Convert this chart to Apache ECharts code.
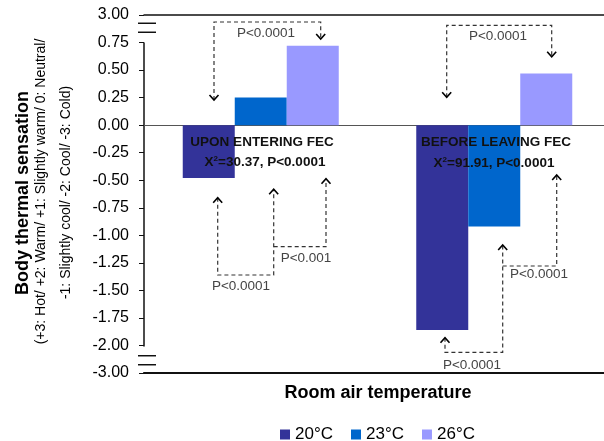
<!DOCTYPE html>
<html>
<head>
<meta charset="utf-8">
<script src="https://cdn.jsdelivr.net/npm/echarts@6/dist/echarts.min.js"></script>
<style>
  html, body { margin: 0; padding: 0; background: #fff; overflow: hidden; width: 604px; height: 441px; }
  /* plot area runs slightly past the right edge of the page */
  #chart { width: 611px; height: 441px; }
</style>
</head>
<body>
<div id="chart"></div>
<script>
// Mean thermal sensation votes per room air temperature
const categories = ['Upon entering FEC', 'Before leaving FEC'];
const seriesNames = ['20°C', '23°C', '26°C'];
const temp20 = [-0.48, -1.86];
const temp23 = [0.25, -0.92];
const temp26 = [0.72, 0.47];
const seriesColors = ['#333399', '#0066CC', '#9999FF'];

// Axis range and the two compressed stretches of the scale
const yMin = -3, yMax = 3, yStep = 0.25;
const upperBreak = { start: 0.75, end: 3, gap: 0.25 };
const lowerBreak = { start: -3, end: -2, gap: 0.25 };

const FONT = '"Liberation Sans", Arial, sans-serif';

const chart = echarts.init(document.getElementById('chart'), null, { renderer: 'canvas' });

const seriesData = [temp20, temp23, temp26];

// dashed comparison brackets with open arrow heads
function bracket(points, heads) {
  const els = [{
    type: 'polyline', silent: true, z: 20,
    shape: { points: points },
    style: { stroke: '#333', lineWidth: 1.2, lineDash: [4, 3], fill: null }
  }];
  heads.forEach(function (h) {
    const p = points[h.at];
    const d = h.dir === 'down' ? -1 : 1;
    els.push({
      type: 'polyline', silent: true, z: 21,
      shape: { points: [[p[0] - 4.5, p[1] + 5 * d], [p[0], p[1]], [p[0] + 4.5, p[1] + 5 * d]] },
      style: { stroke: '#000', lineWidth: 1.6, fill: null }
    });
  });
  return els;
}

function pText(x, y, text) {
  return {
    type: 'text', silent: true, z: 22, x: x, y: y,
    style: { text: text, fill: '#444', font: '13.5px ' + FONT, align: 'center', verticalAlign: 'middle' }
  };
}

function boldText(x, y, text) {
  return {
    type: 'text', silent: true, z: 22, x: x, y: y,
    style: { text: text, fill: '#111', font: 'bold 13.5px ' + FONT, align: 'center', verticalAlign: 'middle' }
  };
}

function chiText(x, y, value) {
  return {
    type: 'text', silent: true, z: 22, x: x, y: y,
    style: {
      text: '{a|X}{s|2}{a|=' + value + ', P<0.0001}',
      align: 'center', verticalAlign: 'middle',
      rich: {
        a: { fill: '#111', fontFamily: FONT, fontWeight: 'bold', fontSize: 13.5, lineHeight: 16 },
        s: { fill: '#111', fontFamily: FONT, fontWeight: 'bold', fontSize: 8, lineHeight: 16, verticalAlign: 'top', padding: [0, 0, 7, 0] }
      }
    }
  };
}

const annotationGraphics = [].concat(
  bracket([[214, 100], [214, 22], [320.7, 22], [320.7, 39]], [{ at: 0, dir: 'down' }, { at: 3, dir: 'down' }]),
  [pText(266, 33, 'P<0.0001')],
  bracket([[217.7, 197.7], [217.7, 275], [273.7, 275], [273.7, 189.3]], [{ at: 0, dir: 'up' }, { at: 3, dir: 'up' }]),
  [pText(241, 286, 'P<0.0001')],
  bracket([[273.7, 246.7], [326, 246.7], [326, 178.7]], [{ at: 2, dir: 'up' }]),
  [pText(306, 258.5, 'P<0.001')],
  bracket([[446.7, 97.3], [446.7, 25.3], [551.7, 25.3], [551.7, 56.7]], [{ at: 0, dir: 'down' }, { at: 3, dir: 'down' }]),
  [pText(498, 36, 'P<0.0001')],
  bracket([[445, 337.7], [445, 352.3], [502.7, 352.3], [502.7, 245]], [{ at: 0, dir: 'up' }, { at: 3, dir: 'up' }]),
  [pText(472, 365, 'P<0.0001')],
  bracket([[502.7, 266], [556.7, 266], [556.7, 175]], [{ at: 2, dir: 'up' }]),
  [pText(539, 274, 'P<0.0001')],
  [boldText(262, 142, 'UPON ENTERING FEC'), chiText(265, 162.5, '30.37')],
  [boldText(496, 142, 'BEFORE LEAVING FEC'), chiText(494, 163.5, '91.91')],
  // rotated y-axis title
  [{
    type: 'text', silent: true, x: 23, y: 193, rotation: Math.PI / 2,
    style: { text: 'Body thermal sensation', fill: '#000', font: 'bold 18px ' + FONT, align: 'center', verticalAlign: 'middle' }
  }, {
    type: 'text', silent: true, x: 41, y: 191.5, rotation: Math.PI / 2,
    style: { text: '(+3: Hot/ +2: Warm/ +1: Slightly warm/ 0: Neutral/', fill: '#000', font: '14px ' + FONT, align: 'center', verticalAlign: 'middle' }
  }, {
    type: 'text', silent: true, x: 66, y: 192.5, rotation: Math.PI / 2,
    style: { text: '-1: Slightly cool/ -2: Cool/ -3: Cold)', fill: '#000', font: '14px ' + FONT, align: 'center', verticalAlign: 'middle' }
  }]
);

const GRID_LEFT = 144;

const option = {
  animation: false,
  backgroundColor: '#fff',
  grid: { left: GRID_LEFT, right: 0, top: 15, bottom: 68, containLabel: false },
  legend: {
    data: seriesNames,
    left: 275, top: 421,
    icon: 'rect', itemWidth: 10, itemHeight: 10, itemGap: 18,
    textStyle: { fontFamily: FONT, fontSize: 17, color: '#000', padding: [0, 0, 0, 0] }
  },
  xAxis: [{
    type: 'category',
    data: categories,
    position: 'bottom',
    axisLine: { onZero: false, lineStyle: { color: '#111', width: 2.2 } },
    axisTick: { show: false },
    axisLabel: { show: false },
    splitLine: { show: false },
    name: 'Room air temperature',
    nameLocation: 'start',
    nameGap: 0,
    nameTextStyle: { fontFamily: FONT, fontWeight: 'bold', fontSize: 18, color: '#000', align: 'center', verticalAlign: 'top', padding: [9, 0, 0, 0] }
  }, {
    type: 'category',
    data: categories,
    position: 'top',
    axisLine: { onZero: false, lineStyle: { color: '#111', width: 1.5 } },
    axisTick: { show: false },
    axisLabel: { show: false },
    splitLine: { show: false }
  }],
  yAxis: {
    type: 'value',
    min: yMin, max: yMax, interval: yStep,
    breaks: [upperBreak, lowerBreak],
    breakArea: {
      show: false,
      expandOnClick: false,
      zigzagAmplitude: 0,
      itemStyle: { color: 'rgba(0,0,0,0)', borderWidth: 0, opacity: 0 }
    },
    breakLabelLayout: { moveOverlap: false },
    axisLine: { show: true, lineStyle: { color: '#111', width: 1.5 } },
    axisTick: { show: true, inside: false, length: 5, lineStyle: { color: '#111', width: 1 } },
    axisLabel: {
      margin: 15,
      fontFamily: FONT, fontSize: 16, color: '#000',
      formatter: function (v) { return v.toFixed(2); }
    },
    splitLine: { show: false }
  },
  series: seriesNames.map(function (name, i) {
    const s = {
      name: name,
      type: 'bar',
      data: seriesData[i],
      barWidth: 52,
      barGap: '0%',
      itemStyle: { color: seriesColors[i] }
    };
    if (i === 0) {
      s.markLine = {
        silent: true, symbol: 'none', z: 1,
        label: { show: false },
        lineStyle: { color: '#555', width: 1, type: 'solid' },
        data: [{ yAxis: 0 }]
      };
    }
    return s;
  }),
  graphic: annotationGraphics
};

chart.setOption(option);

// break marks on the value axis and the axis title, placed from the scales
function extraGraphics() {
  const yPix = function (v) { return chart.convertToPixel({ yAxisIndex: 0 }, v); };
  const upperMid = (yPix(upperBreak.start) + yPix(upperBreak.end)) / 2 - 1;
  const lowerMid = (yPix(lowerBreak.start) + yPix(lowerBreak.end)) / 2 + 1;
  const els = [];
  [upperMid, lowerMid].forEach(function (m) {
    els.push({
      type: 'rect', silent: true, z: 30,
      shape: { x: GRID_LEFT - 3, y: m - 4, width: 6, height: 8 },
      style: { fill: '#fff' }
    });
    [m - 4.5, m + 4.5].forEach(function (yy) {
      els.push({
        type: 'line', silent: true, z: 31,
        shape: { x1: GRID_LEFT - 6, y1: yy, x2: GRID_LEFT + 12, y2: yy },
        style: { stroke: '#111', lineWidth: 1.5 }
      });
    });
  });
  return els;
}

// the x-axis title is centred under the visible part of the plot
chart.setOption({
  xAxis: [{ name: '' }, {}],
  graphic: annotationGraphics.concat(extraGraphics(), [{
    type: 'text', silent: true, x: 378, y: yPixBottom() + 20,
    style: { text: 'Room air temperature', fill: '#000', font: 'bold 18px ' + FONT, align: 'center', verticalAlign: 'middle' }
  }])
}, { replaceMerge: ['graphic'] });

function yPixBottom() { return chart.convertToPixel({ yAxisIndex: 0 }, yMin); }
</script>
</body>
</html>
